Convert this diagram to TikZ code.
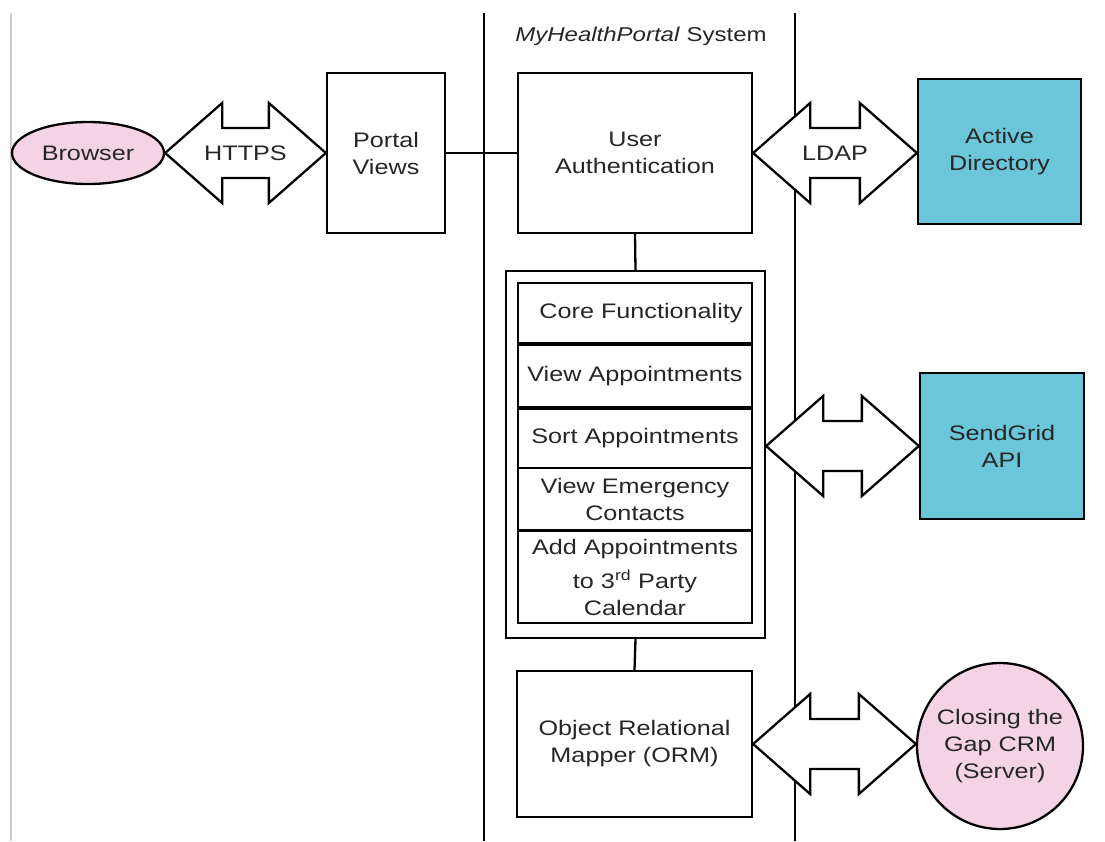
\documentclass[tikz,border=0pt]{standalone}
\usepackage{fontspec}
\setmainfont{Liberation Sans}[FakeStretch=1.2]
\usetikzlibrary{shapes.geometric,calc}
\definecolor{pinkfill}{HTML}{F4D4E4}
\definecolor{cyanfill}{HTML}{6CC6DA}
\newcommand\lblfont{\fontsize{21}{27}\selectfont}

% wide two-headed link between two points on the same horizontal line
\newcommand\fatlink[2]{%
  \draw[fatarrow] (#1) -- ($(#1)+(57,-50)$) -- ($(#1)+(57,-25)$)
    -- ($(#2)+(-57,-25)$) -- ($(#2)+(-57,-50)$) -- (#2)
    -- ($(#2)+(-57,50)$) -- ($(#2)+(-57,25)$)
    -- ($(#1)+(57,25)$) -- ($(#1)+(57,50)$) -- cycle;}

\tikzset{
  box/.style={draw, line width=2.3pt, fill=white, align=center, inner sep=0pt,
    font=\lblfont, text=black!85},
  fatarrow/.style={draw, line width=2.3pt, fill=white, line join=miter},
  lane/.style={line width=2.3pt},
  link/.style={line width=2.3pt},
}

\begin{document}
\begin{tikzpicture}[x=1pt,y=-1pt]
\useasboundingbox[fill=white] (0,0) rectangle (1105,841);

% page edge and system boundary
\draw[gray!40, line width=1.5pt] (11,13) -- (11,841);
\coordinate (lt) at (484,13);  \coordinate (lb) at (484,841);
\coordinate (rt) at (795,13);  \coordinate (rb) at (795,841);
\draw[lane] (lt) -- (lb);
\draw[lane] (rt) -- (rb);

\node[font=\fontsize{20}{24}\selectfont, text=black!85] (title) at (641,36)
  {\textit{MyHealthPortal} System};

% outside actors
\node[box, ellipse, fill=pinkfill, minimum width=152, minimum height=62]
  (browser) at (88,153) {Browser};
\node[box, fill=cyanfill, minimum width=163, minimum height=145]
  (ad) at (999.5,151.5) {Active\\Directory};
\node[box, fill=cyanfill, minimum width=164, minimum height=146]
  (sg) at (1002,446) {SendGrid\\API};
\node[box, circle, fill=pinkfill, minimum size=166]
  (crm) at (1000,746) {Closing the\\Gap CRM\\(Server)};

% system components
\node[box, minimum width=118, minimum height=160] (pv) at (386,153) {Portal\\Views};
\node[box, minimum width=234, minimum height=160] (ua) at (635,153) {User\\Authentication};
\node[box, minimum width=259, minimum height=367] (outer) at (635.5,454.5) {};
\node[box, minimum width=234, minimum height=60, text width=234, align=center]
  (core) at (635,313) {\hspace*{12pt}Core Functionality};
\node[box, minimum width=234, minimum height=62] (view) at (635,376) {View Appointments};
\node[box, minimum width=234, minimum height=59] (sort) at (635,438.5) {Sort Appointments};
\node[box, minimum width=234, minimum height=62] (emerg) at (635,499) {View Emergency\\Contacts};
\node[box, minimum width=234, minimum height=92, align=center] (add) at (635,577)
  {Add Appointments\\[7pt]to 3\textsuperscript{rd} Party\\Calendar};
\node[box, minimum width=235, minimum height=146] (orm) at (634.5,744)
  {Object Relational\\Mapper (ORM)};

% plain connectors
\draw[link] (pv.east) -- (ua.west);
\draw[link] (ua.south) -- (outer.north);
\draw[link] (outer.south) -- (orm.north);

% protocol links
\coordinate (httpsL) at (browser.east);
\coordinate (httpsR) at (browser.east -| pv.west);
\fatlink{httpsL}{httpsR}
\node[font=\lblfont, text=black!85] (https) at ($(httpsL)!0.5!(httpsR)$) {HTTPS};

\coordinate (ldapL) at (ua.east);
\coordinate (ldapR) at (ua.east -| ad.west);
\fatlink{ldapL}{ldapR}
\node[font=\lblfont, text=black!85] (ldap) at ($(ldapL)!0.5!(ldapR)$) {LDAP};

\coordinate (sgL) at (sg.west -| outer.east);
\coordinate (sgR) at (sg.west);
\fatlink{sgL}{sgR}

\coordinate (ormL) at (orm.east);
\coordinate (ormR) at (orm.east -| crm.west);
\fatlink{ormL}{ormR}
\end{tikzpicture}
\end{document}
